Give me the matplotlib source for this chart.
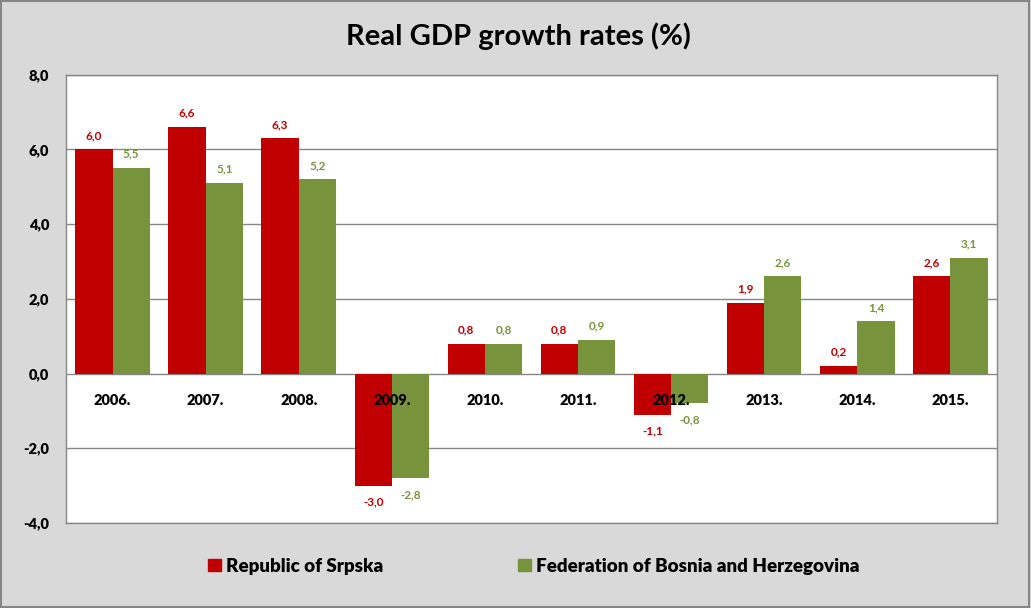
import numpy as np
import matplotlib
matplotlib.use("Agg")
import matplotlib.pyplot as plt
from matplotlib.patches import Patch

plt.rcParams['font.family'] = ['Lato', 'DejaVu Sans']

years = ["2006.", "2007.", "2008.", "2009.", "2010.", "2011.", "2012.", "2013.", "2014.", "2015."]
srpska = [6.0, 6.6, 6.3, -3.0, 0.8, 0.8, -1.1, 1.9, 0.2, 2.6]
fbih = [5.5, 5.1, 5.2, -2.8, 0.8, 0.9, -0.8, 2.6, 1.4, 3.1]
yticks = [-4, -2, 0, 2, 4, 6, 8]

red = "#c00000"
green = "#77933c"
bg = "#d9d9d9"


def fmt(v):
    return ("%.1f" % v).replace(".", ",")


fig = plt.figure(figsize=(10.31, 6.08), dpi=100, facecolor=bg)
ax = fig.add_axes([0.064, 0.140, 0.903, 0.737])
ax.set_facecolor("white")

x = np.arange(len(years))
w = 0.4
b1 = ax.bar(x - w / 2, srpska, w, color=red, zorder=3, label="Republic of Srpska")
b2 = ax.bar(x + w / 2, fbih, w, color=green, zorder=3, label="Federation of Bosnia and Herzegovina")

ax.set_ylim(-4, 8)
ax.set_xlim(-0.5, len(years) - 0.5)
ax.set_yticks(yticks)
ax.set_yticklabels([fmt(v) for v in yticks], fontsize=10.5, fontweight="heavy")
ax.yaxis.grid(True, color="#868686", linewidth=1, zorder=0)
ax.tick_params(axis="y", length=0, pad=12)
ax.set_xticks([])
for s in ax.spines.values():
    s.set_color("#868686")
    s.set_linewidth(1)

for i, y in enumerate(years):
    ax.annotate(y, (x[i], 0), xytext=(0, -24), textcoords="offset points",
                ha="center", va="bottom", fontsize=10.5, fontweight="heavy", zorder=4)

for bars, vals, c in [(b1, srpska, red), (b2, fbih, green)]:
    for b, v in zip(bars, vals):
        off = 6 if v >= 0 else -8
        ax.annotate(fmt(v), (b.get_x() + b.get_width() / 2, v), xytext=(0, off),
                    textcoords="offset points", ha="center",
                    va="bottom" if v >= 0 else "top",
                    fontsize=8.5, fontweight="bold", color=c, zorder=4)

fig.text(0.503, 0.94, "Real GDP growth rates (%)", ha="center", va="center",
         fontsize=21, fontweight="bold")

handles = [Patch(color=red, label="Republic of Srpska"),
           Patch(color=green, label="Federation of Bosnia and Herzegovina")]
fig.legend(handles=handles, loc="center", bbox_to_anchor=(0.518, 0.069), ncol=2,
           frameon=False, prop={"size": 13.5, "weight": "heavy"},
           handlelength=0.65, handleheight=0.65, handletextpad=0.3, columnspacing=7.2)

fig.patches.append(plt.Rectangle((0.001, 0.001), 0.997, 0.997, transform=fig.transFigure,
                                 fill=False, edgecolor="#868686", linewidth=1.5))

fig.savefig("out.png", dpi=100, facecolor=bg)
